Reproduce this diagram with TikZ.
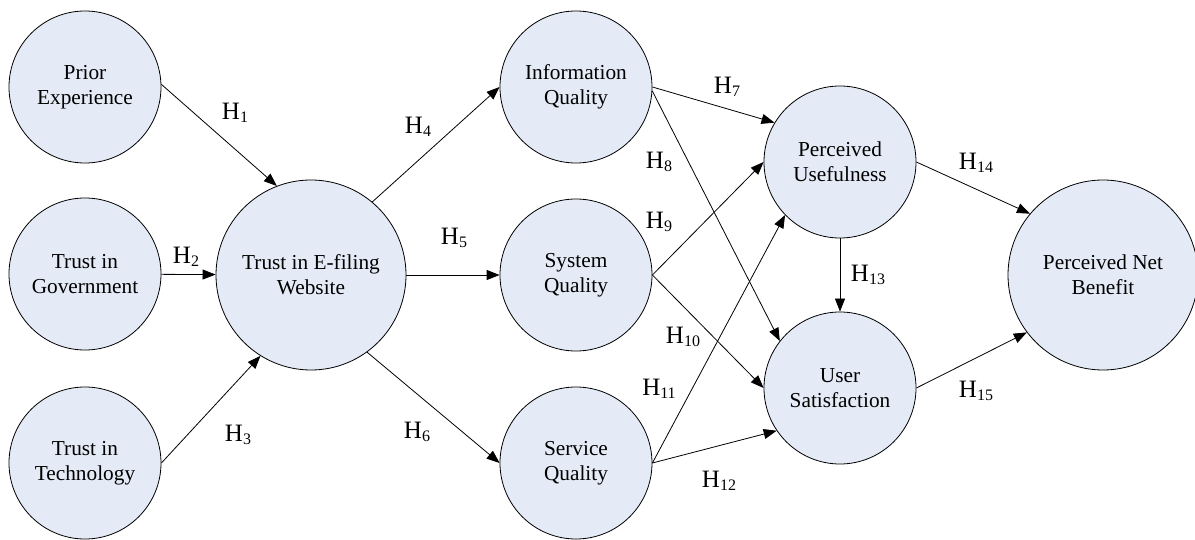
\documentclass[tikz,border=0pt]{standalone}
\usepackage{fontspec}
\setmainfont{Liberation Serif}
\usetikzlibrary{arrows.meta}
\definecolor{fillc}{HTML}{E4EBF6}
\newcommand{\hyp}[1]{H\raisebox{-3pt}{\fontsize{16}{16}\selectfont#1}}
\begin{document}
\begin{tikzpicture}[x=1pt,y=-1pt,
  var/.style={circle,draw=black,line width=0.8pt,fill=fillc,minimum size=152pt,inner sep=0pt,align=center,font=\fontsize{21.3}{25}\selectfont},
  bigvar/.style={var,minimum size=190pt},
  link/.style={line width=0.8pt,-{Triangle[length=13pt,width=10pt]}},
  hl/.style={font=\fontsize{25}{25}\selectfont,inner sep=0pt}]
\useasboundingbox (0,0) rectangle (1195,540);
\node[var] (pe) at (85,87) {Prior\\Experience};
\node[var] (tg) at (85,274) {Trust in\\Government};
\node[var] (tt) at (85,463) {Trust in\\Technology};
\node[bigvar] (tw) at (311,275) {Trust in E-filing\\Website};
\node[var] (iq) at (576,87) {Information\\Quality};
\node[var] (sq) at (576,275) {System\\Quality};
\node[var] (svq) at (576,463) {Service\\Quality};
\node[var] (pu) at (840,162) {Perceived\\Usefulness};
\node[var] (us) at (840,388) {User\\Satisfaction};
\node[bigvar] (pnb) at (1103,275) {Perceived Net\\Benefit};
\draw[link] (pe.2) -- (tw.111);
\draw[link] (tg) -- (tw);
\draw[link] (tt.0) -- (tw.238);
\draw[link] (tw.50) -- (iq.180);
\draw[link] (tw) -- (sq);
\draw[link] (tw.-54) -- (svq.180);
\draw[link] (iq.0) -- (pu.149);
\draw[link] (iq.-3) -- (us.142);
\draw[link] (sq.0) -- (pu.180);
\draw[link] (sq.0) -- (us.180);
\draw[link] (svq.0) -- (pu.224);
\draw[link] (svq.0) -- (us.214);
\draw[link] (pu) -- (us);
\draw[link] (pu.0) -- (pnb.140);
\draw[link] (us.0) -- (pnb.217);
\node[hl] (h1) at (235,113) {\hyp{1}};
\node[hl] (h2) at (186,257) {\hyp{2}};
\node[hl] (h3) at (238,435) {\hyp{3}};
\node[hl] (h4) at (418,127) {\hyp{4}};
\node[hl] (h5) at (454,238) {\hyp{5}};
\node[hl] (h6) at (417,432) {\hyp{6}};
\node[hl] (h7) at (727,87) {\hyp{7}};
\node[hl] (h8) at (659,162) {\hyp{8}};
\node[hl] (h9) at (659,222) {\hyp{9}};
\node[hl] (h10) at (683,337) {\hyp{10}};
\node[hl] (h11) at (659,389) {\hyp{11}};
\node[hl] (h12) at (719,481) {\hyp{12}};
\node[hl] (h13) at (868,275) {\hyp{13}};
\node[hl] (h14) at (976,163) {\hyp{14}};
\node[hl] (h15) at (976,391) {\hyp{15}};
\end{tikzpicture}
\end{document}
